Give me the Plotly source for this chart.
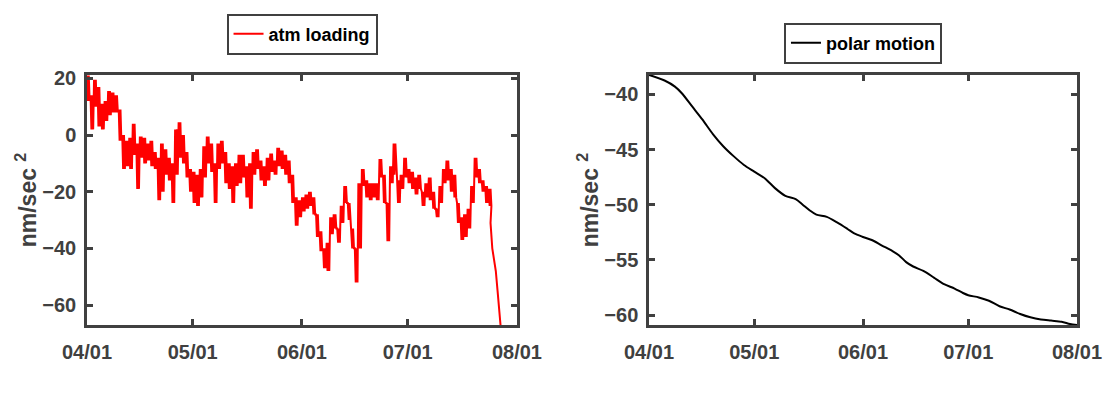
import pandas as pd
import plotly.graph_objects as go

# ---------------- data ----------------
start_date = "2019-04-01"
month_ticks = ["2019-04-01", "2019-05-01", "2019-06-01", "2019-07-01", "2019-08-01"]
month_labels = ["04/01", "05/01", "06/01", "07/01", "08/01"]

# atm loading: per-day upper / lower values of the noisy band (days 0..114)
atm_hi = [21, 14, 19.5, 17, 11, 12, 15.5, 15, 14, 9,
          0, -2, -1, 4, -3, -0.5, -1, -3, -2, -6,
          -8, -3, -5, -8, -10, 2, 4.5, 0, -6, -12,
          -13, -14, -12, -4, -0.5, -3, -10, -3, -2, -6,
          -10, -11, -10, -7, -7, -11, -10, -6, -5, -9,
          -11, -8, -6.5, -9, -4.5, -5.5, -7, -9, -14, -22,
          -23, -22, -21, -20, -22, -28, -34, -40, -38, -29,
          -28, -33, -25, -18, -24, -33, -40, -17, -12, -16,
          -17, -17, -17, -8.5, -14, -24, -11, -3, -16, -14,
          -8, -12, -13, -15, -14, -20, -17, -15, -20, -26,
          -18, -12, -9, -12, -14, -24, -29, -28, -26, -18,
          -8, -12, -16, -18, -19]
atm_lo = [12, 2, 10, 3, 2, 5, 7, 8, 8, -2,
          -12, -11, -12, -7, -19, -8, -10, -9, -11, -12,
          -23, -20, -14, -16, -24, -14, -8, -10, -15, -20,
          -24, -25, -22, -15, -10, -13, -24, -12, -10, -17,
          -19, -24, -18, -17, -15, -22, -26, -14, -12, -16,
          -18, -16, -13, -14, -11, -12, -14, -17, -24, -32,
          -29, -27, -26, -25, -28, -36, -41, -47, -48, -35,
          -33, -38, -31, -24, -30, -40, -52, -40, -18, -22,
          -23, -22, -23, -15, -24, -37.5, -17, -14, -24, -19,
          -15, -17, -19, -21, -19, -25, -22, -23, -26, -29,
          -24, -17, -16, -20, -22, -31, -37, -36, -33, -24,
          -15, -17, -20, -24, -25]
atm_tail_days = [114.5, 115, 115.5, 116, 116.5, 117, 117.4]
atm_tail_vals = [-31, -40, -44, -48, -55, -62, -68]

# polar motion (smooth curve)
pm_days = [0, 4.43, 7.38, 9.35, 12.3, 15.25, 18.2, 21.15, 24.1, 27.06,
           30.0, 32.96, 35.9, 38.86, 41.8, 43.8, 45.75, 47.7, 50.67, 53.6,
           56.6, 58.5, 60.8, 63.5, 66.4, 69.4, 71.3, 73.3, 75.3, 78.2,
           81.2, 84.1, 87.1, 89.5, 91.0, 94.0, 96.9, 99.9, 102.8, 105.8,
           108.7, 111.7, 114.6, 117.6, 120.0, 122.0]
pm_vals = [-38.24, -38.75, -39.3, -39.9, -41.1, -42.3, -43.6, -44.7, -45.6, -46.4,
           -47.0, -47.6, -48.5, -49.2, -49.5, -50.0, -50.5, -50.9, -51.1, -51.6,
           -52.2, -52.6, -52.9, -53.2, -53.7, -54.2, -54.6, -55.2, -55.6, -56.0,
           -56.6, -57.2, -57.6, -58.0, -58.2, -58.4, -58.7, -59.2, -59.5, -59.9,
           -60.2, -60.4, -60.5, -60.6, -60.8, -60.9]

# ---------------- build series: the noisy band alternates between its read extents ----------------
atm_days, atm_vals = [], []
for d, (h, l) in enumerate(zip(atm_hi, atm_lo)):
    atm_days += [d, d + 0.25, d + 0.5, d + 0.75]
    atm_vals += [h, l, h, l]
atm_days += atm_tail_days
atm_vals += atm_tail_vals

t0 = pd.Timestamp(start_date)
atm_x = [t0 + pd.Timedelta(days=d) for d in atm_days]
pm_x = [t0 + pd.Timedelta(days=d) for d in pm_days]

AX = "#404040"
FONT = "Liberation Sans"

fig = go.Figure()
fig.add_trace(go.Scatter(x=atm_x, y=atm_vals, mode="lines", name="atm loading",
                         line=dict(color="#ff0000", width=2),
                         xaxis="x", yaxis="y", legend="legend"))
fig.add_trace(go.Scatter(x=pm_x, y=pm_vals, mode="lines", name="polar motion",
                         line=dict(color="#000000", width=2, shape="spline", smoothing=0.8),
                         xaxis="x2", yaxis="y2", legend="legend2"))

common = dict(showline=True, linecolor=AX, linewidth=2.5, mirror="ticks",
              ticks="inside", ticklen=6, tickwidth=2.5, tickcolor=AX,
              showgrid=False, zeroline=False,
              tickfont=dict(family=FONT, size=20, color=AX, weight="bold"))

xcommon = dict(common, type="date", range=[month_ticks[0], month_ticks[-1]],
               tickvals=month_ticks, ticktext=month_labels, ticklabelstandoff=7)

ytitle = dict(text="nm/sec <sup>2</sup>",
              font=dict(family=FONT, size=23, color=AX, weight="bold"), standoff=0)

legend_common = dict(xanchor="center", yanchor="top", bordercolor=AX, borderwidth=2,
                     bgcolor="white",
                     font=dict(family=FONT, size=18, color="black", weight="bold"))

# the page body adds an 8px offset, so the margins are reduced by that amount
fig.update_layout(
    width=1115, height=397,
    margin=dict(l=79, r=46, t=67, b=80, autoexpand=False),
    paper_bgcolor="white", plot_bgcolor="white",
    showlegend=True,
    xaxis=dict(xcommon, domain=[0, 0.4343], anchor="y"),
    yaxis=dict(common, domain=[0, 1], anchor="x", range=[-67.05, 21.2],
               tickvals=[-60, -40, -20, 0, 20], title=ytitle, ticklabelstandoff=4),
    xaxis2=dict(xcommon, domain=[0.5677, 1.0], anchor="y2"),
    yaxis2=dict(common, domain=[0, 1], anchor="x2", range=[-60.9, -38.25],
                tickvals=[-60, -55, -50, -45, -40], title=ytitle, ticklabelstandoff=4),
    legend=dict(legend_common, x=0.2172, y=1.246),
    legend2=dict(legend_common, x=0.7838, y=1.21),
)

fig.write_html("out.html")
